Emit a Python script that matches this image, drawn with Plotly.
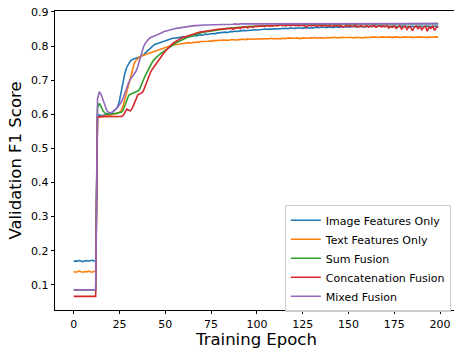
import plotly.graph_objects as go

epochs = list(range(200))

image_only = [
    0.168,0.170,0.169,0.171,0.170,0.168,0.170,0.171,0.169,0.170,
    0.172,0.170,0.171,0.600,0.598,0.596,0.597,0.598,0.600,0.601,
    0.603,0.606,0.610,0.615,0.622,0.640,0.668,0.700,0.722,0.738,
    0.749,0.757,0.761,0.763,0.764,0.765,0.767,0.770,0.774,0.779,
    0.784,0.790,0.796,0.801,0.804,0.806,0.808,0.811,0.813,0.815,
    0.817,0.819,0.821,0.822,0.823,0.823,0.824,0.825,0.825,0.826,
    0.827,0.826,0.828,0.829,0.828,0.830,0.831,0.830,0.832,0.833,
    0.832,0.834,0.835,0.834,0.836,0.836,0.837,0.836,0.838,0.839,
    0.838,0.840,0.840,0.841,0.840,0.842,0.843,0.842,0.844,0.843,
    0.844,0.845,0.844,0.846,0.845,0.846,0.847,0.846,0.847,0.848,
    0.847,0.848,0.849,0.848,0.849,0.850,0.849,0.850,0.851,0.850,
    0.851,0.850,0.851,0.852,0.851,0.852,0.852,0.851,0.853,0.852,
    0.853,0.852,0.853,0.854,0.853,0.852,0.854,0.853,0.854,0.855,
    0.854,0.853,0.855,0.854,0.855,0.854,0.856,0.855,0.854,0.856,
    0.855,0.856,0.855,0.857,0.856,0.855,0.857,0.856,0.857,0.856,
    0.857,0.856,0.858,0.857,0.856,0.858,0.857,0.858,0.857,0.856,
    0.858,0.857,0.858,0.857,0.859,0.858,0.857,0.858,0.859,0.858,
    0.857,0.859,0.858,0.857,0.859,0.858,0.859,0.857,0.858,0.859,
    0.858,0.859,0.857,0.858,0.859,0.858,0.857,0.859,0.858,0.859,
    0.858,0.857,0.859,0.858,0.859,0.857,0.858,0.859,0.858,0.859,
]

text_only = [
    0.139,0.137,0.138,0.140,0.138,0.137,0.139,0.138,0.140,0.139,
    0.137,0.139,0.140,0.590,0.592,0.593,0.594,0.595,0.596,0.597,
    0.598,0.598,0.599,0.600,0.602,0.606,0.612,0.625,0.645,0.668,
    0.690,0.712,0.732,0.748,0.758,0.764,0.768,0.771,0.773,0.775,
    0.777,0.779,0.781,0.783,0.785,0.787,0.789,0.791,0.793,0.795,
    0.797,0.798,0.800,0.801,0.803,0.804,0.804,0.806,0.806,0.807,
    0.808,0.808,0.809,0.810,0.809,0.811,0.811,0.812,0.811,0.813,
    0.813,0.812,0.814,0.814,0.815,0.814,0.816,0.815,0.816,0.817,
    0.816,0.817,0.818,0.817,0.818,0.817,0.819,0.818,0.819,0.818,
    0.819,0.820,0.819,0.820,0.819,0.821,0.820,0.820,0.821,0.820,
    0.821,0.820,0.822,0.821,0.821,0.822,0.821,0.822,0.823,0.821,
    0.822,0.823,0.822,0.821,0.823,0.822,0.823,0.822,0.824,0.823,
    0.822,0.823,0.824,0.823,0.822,0.824,0.823,0.824,0.823,0.824,
    0.823,0.824,0.825,0.823,0.824,0.825,0.824,0.823,0.825,0.824,
    0.825,0.824,0.825,0.826,0.824,0.825,0.824,0.826,0.825,0.824,
    0.825,0.826,0.825,0.824,0.826,0.825,0.826,0.825,0.824,0.826,
    0.825,0.826,0.825,0.827,0.826,0.825,0.826,0.825,0.827,0.826,
    0.825,0.826,0.827,0.826,0.825,0.827,0.826,0.827,0.826,0.825,
    0.827,0.826,0.827,0.826,0.827,0.825,0.826,0.827,0.826,0.827,
    0.826,0.827,0.826,0.825,0.827,0.826,0.827,0.826,0.827,0.826,
]

sum_fusion = [
    0.085,0.085,0.085,0.085,0.085,0.085,0.085,0.085,0.085,0.085,
    0.085,0.085,0.085,0.620,0.632,0.622,0.610,0.604,0.601,0.600,
    0.600,0.601,0.601,0.602,0.603,0.604,0.606,0.612,0.628,0.645,
    0.655,0.659,0.661,0.663,0.665,0.668,0.674,0.685,0.700,0.713,
    0.724,0.735,0.745,0.754,0.761,0.767,0.772,0.776,0.780,0.784,
    0.788,0.792,0.796,0.800,0.804,0.807,0.810,0.813,0.816,0.818,
    0.821,0.823,0.825,0.827,0.830,0.832,0.834,0.835,0.837,0.838,
    0.840,0.841,0.842,0.843,0.844,0.845,0.846,0.847,0.848,0.848,
    0.849,0.850,0.850,0.851,0.852,0.852,0.853,0.853,0.854,0.854,
    0.855,0.855,0.856,0.856,0.857,0.857,0.857,0.858,0.858,0.858,
    0.859,0.859,0.859,0.860,0.860,0.860,0.860,0.861,0.861,0.861,
    0.861,0.861,0.862,0.862,0.862,0.862,0.862,0.862,0.863,0.863,
    0.863,0.863,0.863,0.864,0.863,0.864,0.863,0.864,0.864,0.863,
    0.864,0.864,0.863,0.864,0.864,0.865,0.864,0.864,0.863,0.864,
    0.864,0.865,0.864,0.864,0.865,0.864,0.864,0.865,0.864,0.865,
    0.864,0.865,0.864,0.865,0.865,0.864,0.865,0.864,0.865,0.865,
    0.864,0.865,0.865,0.864,0.865,0.865,0.864,0.865,0.865,0.864,
    0.865,0.865,0.864,0.865,0.866,0.865,0.864,0.865,0.865,0.866,
    0.865,0.864,0.865,0.866,0.865,0.865,0.864,0.865,0.866,0.865,
    0.865,0.866,0.865,0.865,0.866,0.865,0.865,0.866,0.865,0.866,
]

concat_fusion = [
    0.066,0.066,0.066,0.066,0.066,0.066,0.066,0.066,0.066,0.066,
    0.066,0.066,0.066,0.593,0.593,0.593,0.593,0.593,0.593,0.593,
    0.593,0.593,0.593,0.593,0.593,0.593,0.594,0.596,0.606,0.615,
    0.612,0.610,0.618,0.632,0.648,0.657,0.660,0.662,0.668,0.683,
    0.700,0.713,0.724,0.733,0.741,0.748,0.756,0.764,0.771,0.778,
    0.785,0.791,0.797,0.802,0.807,0.811,0.815,0.818,0.821,0.824,
    0.826,0.828,0.830,0.832,0.834,0.835,0.837,0.838,0.840,0.841,
    0.842,0.843,0.844,0.845,0.846,0.846,0.847,0.848,0.849,0.849,
    0.850,0.849,0.851,0.850,0.852,0.851,0.853,0.849,0.854,0.852,
    0.855,0.851,0.856,0.854,0.857,0.853,0.858,0.856,0.855,0.858,
    0.857,0.859,0.858,0.860,0.857,0.859,0.861,0.858,0.860,0.859,
    0.861,0.859,0.860,0.862,0.860,0.861,0.859,0.862,0.860,0.861,
    0.862,0.860,0.861,0.859,0.862,0.860,0.861,0.856,0.860,0.861,
    0.859,0.861,0.860,0.858,0.861,0.859,0.860,0.862,0.858,0.860,
    0.861,0.857,0.860,0.859,0.861,0.858,0.860,0.856,0.859,0.861,
    0.858,0.860,0.857,0.859,0.861,0.856,0.859,0.860,0.857,0.859,
    0.860,0.856,0.859,0.858,0.861,0.855,0.858,0.860,0.856,0.859,
    0.857,0.860,0.853,0.858,0.855,0.859,0.852,0.857,0.860,0.850,
    0.856,0.858,0.849,0.857,0.854,0.845,0.856,0.859,0.851,0.857,
    0.848,0.855,0.858,0.844,0.856,0.852,0.858,0.846,0.855,0.857,
]

mixed_fusion = [
    0.085,0.085,0.085,0.085,0.085,0.085,0.085,0.085,0.085,0.085,
    0.085,0.085,0.085,0.645,0.666,0.658,0.642,0.625,0.612,0.606,
    0.604,0.606,0.610,0.615,0.621,0.628,0.636,0.648,0.664,0.680,
    0.693,0.703,0.711,0.718,0.726,0.740,0.760,0.780,0.796,0.808,
    0.816,0.821,0.825,0.828,0.830,0.832,0.834,0.837,0.840,0.842,
    0.844,0.845,0.847,0.848,0.850,0.851,0.852,0.853,0.854,0.855,
    0.856,0.857,0.857,0.858,0.859,0.859,0.860,0.860,0.861,0.861,
    0.861,0.862,0.862,0.862,0.862,0.863,0.862,0.863,0.863,0.863,
    0.863,0.864,0.863,0.864,0.864,0.863,0.864,0.864,0.865,0.864,
    0.864,0.865,0.864,0.865,0.865,0.864,0.865,0.865,0.864,0.865,
    0.865,0.865,0.866,0.865,0.865,0.866,0.865,0.865,0.866,0.865,
    0.866,0.865,0.866,0.866,0.865,0.866,0.866,0.865,0.866,0.866,
    0.865,0.866,0.866,0.865,0.866,0.866,0.866,0.865,0.866,0.866,
    0.866,0.865,0.866,0.866,0.865,0.866,0.866,0.866,0.865,0.866,
    0.866,0.866,0.865,0.866,0.866,0.866,0.865,0.866,0.866,0.866,
    0.865,0.866,0.866,0.866,0.865,0.866,0.866,0.865,0.866,0.866,
    0.866,0.865,0.866,0.866,0.866,0.865,0.866,0.866,0.865,0.866,
    0.866,0.866,0.865,0.866,0.866,0.865,0.866,0.866,0.866,0.865,
    0.866,0.866,0.865,0.866,0.866,0.866,0.865,0.866,0.866,0.865,
    0.866,0.866,0.866,0.865,0.866,0.866,0.865,0.866,0.866,0.866,
]

series_names = ["Image Features Only", "Text Features Only", "Sum Fusion",
                "Concatenation Fusion", "Mixed Fusion"]
series_values = [image_only, text_only, sum_fusion, concat_fusion, mixed_fusion]
colors = ["#1f77b4", "#ff7f0e", "#2ca02c", "#d62728", "#9467bd"]

x_ticks = [0, 25, 50, 75, 100, 125, 150, 175, 200]
y_ticks = [0.1, 0.2, 0.3, 0.4, 0.5, 0.6, 0.7, 0.8, 0.9]
x_title = "Training Epoch"
y_title = "Validation F1 Score"

fig = go.Figure()
for name, vals, col in zip(series_names, series_values, colors):
    fig.add_trace(go.Scatter(x=epochs, y=vals, mode="lines", name=name,
                             line=dict(color=col, width=1.6)))

font_family = "DejaVu Sans"
fig.update_layout(
    width=454, height=349,
    margin=dict(l=55, r=0, t=11, b=39),
    paper_bgcolor="white", plot_bgcolor="white",
    font=dict(family=font_family, color="black", size=11),
    showlegend=True,
    legend=dict(x=0.992, y=-0.006, xanchor="right", yanchor="bottom",
                bgcolor="rgba(255,255,255,0.8)", bordercolor="#cccccc",
                borderwidth=1, itemwidth=30,
                font=dict(size=11, family=font_family, color="black"),
                tracegroupgap=0),
    xaxis=dict(range=[-10.2, 207.6], tickvals=x_ticks, ticks="outside",
               ticklen=3.5, tickwidth=0.8, tickcolor="black",
               showline=True, linecolor="black", linewidth=0.8, mirror=True,
               showgrid=False, zeroline=False, automargin=False,
               tickfont=dict(size=11)),
    yaxis=dict(range=[0.0261, 0.9029], tickvals=y_ticks, tickformat=".1f",
               ticks="outside", ticklen=3.5, tickwidth=0.8, tickcolor="black",
               showline=True, linecolor="black", linewidth=0.8,
               showgrid=False, zeroline=False, automargin=False,
               tickfont=dict(size=11)),
    annotations=[
        dict(text=x_title, xref="paper", yref="paper", x=0.503, y=-0.1,
             xanchor="center", yanchor="middle", showarrow=False,
             font=dict(size=16.5, family=font_family, color="black")),
        dict(text=y_title, xref="paper", yref="paper", x=-0.1, y=0.5,
             xanchor="center", yanchor="middle", textangle=-90, showarrow=False,
             font=dict(size=16.5, family=font_family, color="black")),
    ],
)

fig.write_html("out.html", config={"displayModeBar": False},
               post_script="document.body.style.margin='0';document.body.style.padding='0';")
